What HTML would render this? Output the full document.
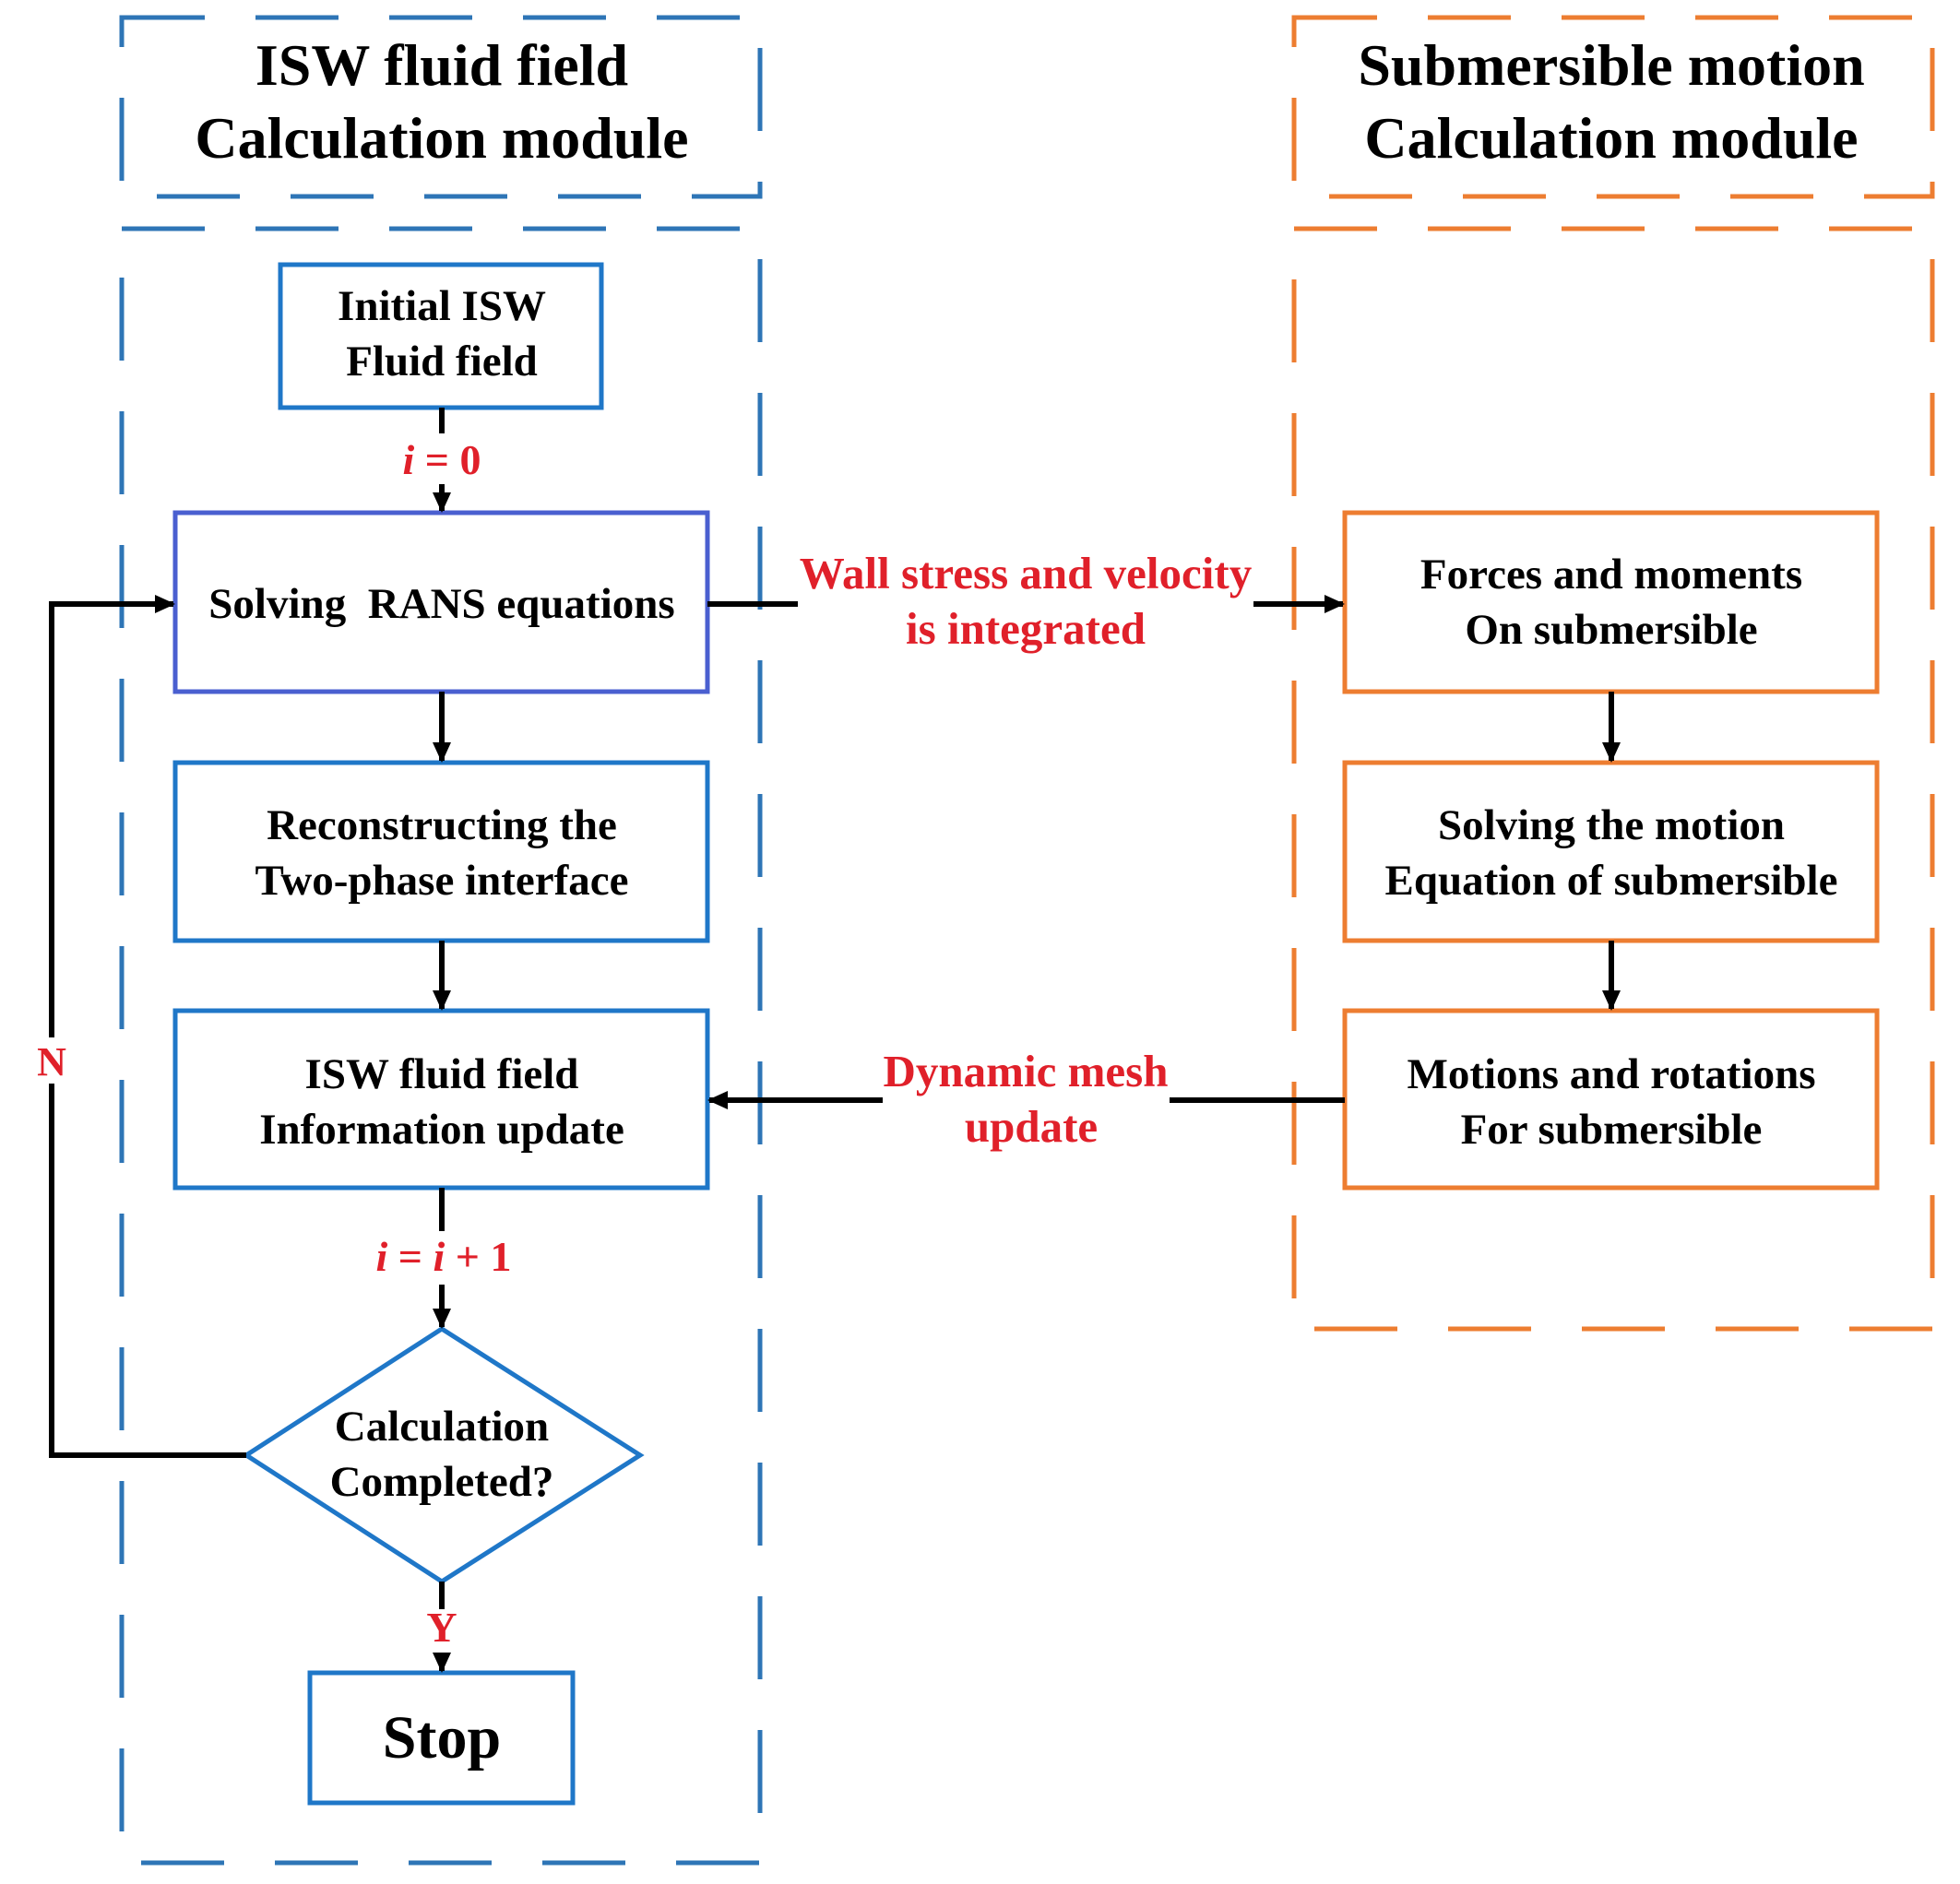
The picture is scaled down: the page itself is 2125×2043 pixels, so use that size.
<!DOCTYPE html>
<html><head><meta charset="utf-8"><style>
html,body{margin:0;padding:0;background:#fff}
svg{display:block}
text{font-family:"Liberation Serif",serif;font-weight:bold;text-anchor:middle}
</style></head><body>
<svg width="2125" height="2043" viewBox="0 0 2125 2043" xmlns="http://www.w3.org/2000/svg">
<defs>
<marker id="ab" markerWidth="22" markerHeight="20" refX="20" refY="10" orient="auto" markerUnits="userSpaceOnUse">
<path d="M0,0 L22,10 L0,20 z" fill="#000"/></marker>
</defs>
<g fill="none" stroke-width="5">
<rect x="132" y="19" width="692" height="194" stroke="#2E75B6" stroke-dasharray="90,55"/>
<rect x="132" y="248" width="692" height="1772" stroke="#2E75B6" stroke-dasharray="90,55"/>
<rect x="1403" y="19" width="692" height="194" stroke="#ED7D31" stroke-dasharray="90,55"/>
<rect x="1403" y="248" width="692" height="1193" stroke="#ED7D31" stroke-dasharray="90,55"/>
<rect x="304" y="287" width="348" height="155" stroke="#1F77C8"/>
<rect x="190" y="556" width="577" height="194" stroke="#4A5FD0"/>
<rect x="190" y="827" width="577" height="193" stroke="#1F77C8"/>
<rect x="190" y="1096" width="577" height="192" stroke="#1F77C8"/>
<polygon points="479,1441 694,1578 479,1715 267,1578" stroke="#1F77C8"/>
<rect x="336" y="1814" width="285" height="141" stroke="#1F77C8"/>
<rect x="1458" y="556" width="577" height="194" stroke="#ED7D31"/>
<rect x="1458" y="827" width="577" height="193" stroke="#ED7D31"/>
<rect x="1458" y="1096" width="577" height="192" stroke="#ED7D31"/>
</g>
<g stroke="#000" stroke-width="6" fill="none">
<line x1="479" y1="442" x2="479" y2="470"/>
<line x1="479" y1="525" x2="479" y2="554" marker-end="url(#ab)"/>
<line x1="479" y1="750" x2="479" y2="825" marker-end="url(#ab)"/>
<line x1="479" y1="1020" x2="479" y2="1094" marker-end="url(#ab)"/>
<line x1="479" y1="1288" x2="479" y2="1335"/>
<line x1="479" y1="1393" x2="479" y2="1439" marker-end="url(#ab)"/>
<line x1="479" y1="1715" x2="479" y2="1745"/>
<line x1="479" y1="1795" x2="479" y2="1812" marker-end="url(#ab)"/>
<polyline points="267,1578 56,1578 56,1175"/>
<polyline points="56,1125 56,655 188,655" marker-end="url(#ab)"/>
<line x1="767" y1="655" x2="865" y2="655"/>
<line x1="1359" y1="655" x2="1456" y2="655" marker-end="url(#ab)"/>
<line x1="1458" y1="1193" x2="1268" y2="1193"/>
<line x1="957" y1="1193" x2="769" y2="1193" marker-end="url(#ab)"/>
<line x1="1747" y1="750" x2="1747" y2="825" marker-end="url(#ab)"/>
<line x1="1747" y1="1020" x2="1747" y2="1094" marker-end="url(#ab)"/>
</g>
<g fill="#000">
<text x="479" y="92" font-size="64">ISW fluid field</text>
<text x="479" y="171" font-size="64">Calculation module</text>
<text x="1747" y="92" font-size="64">Submersible motion</text>
<text x="1747" y="171" font-size="64">Calculation module</text>
<text x="479" y="347" font-size="47">Initial ISW</text>
<text x="479" y="407" font-size="47">Fluid field</text>
<text x="479" y="670" font-size="47">Solving&#160; RANS equations</text>
<text x="479" y="910" font-size="47">Reconstructing the</text>
<text x="479" y="970" font-size="47">Two-phase interface</text>
<text x="479" y="1180" font-size="47">ISW fluid field</text>
<text x="479" y="1240" font-size="47">Information update</text>
<text x="479" y="1562" font-size="47">Calculation</text>
<text x="479" y="1622" font-size="47">Completed?</text>
<text x="479" y="1906" font-size="66">Stop</text>
<text x="1747" y="638" font-size="47">Forces and moments</text>
<text x="1747" y="698" font-size="47">On submersible</text>
<text x="1747" y="910" font-size="47">Solving the motion</text>
<text x="1747" y="970" font-size="47">Equation of submersible</text>
<text x="1747" y="1180" font-size="47">Motions and rotations</text>
<text x="1747" y="1240" font-size="47">For submersible</text>
</g>
<g fill="#E0202A">
<text x="479" y="514" font-size="46"><tspan font-style="italic">i</tspan> = 0</text>
<text x="481" y="1378" font-size="46"><tspan font-style="italic">i</tspan> = <tspan font-style="italic">i</tspan> + 1</text>
<text x="56" y="1166" font-size="44">N</text>
<text x="479" y="1780" font-size="46" font-weight="normal">Y</text>
<text x="1112" y="638" font-size="49">Wall stress and velocity</text>
<text x="1112" y="698" font-size="49">is integrated</text>
<text x="1112" y="1178" font-size="49">Dynamic mesh</text>
<text x="1118" y="1238" font-size="49">update</text>
</g>
</svg>
</body></html>
